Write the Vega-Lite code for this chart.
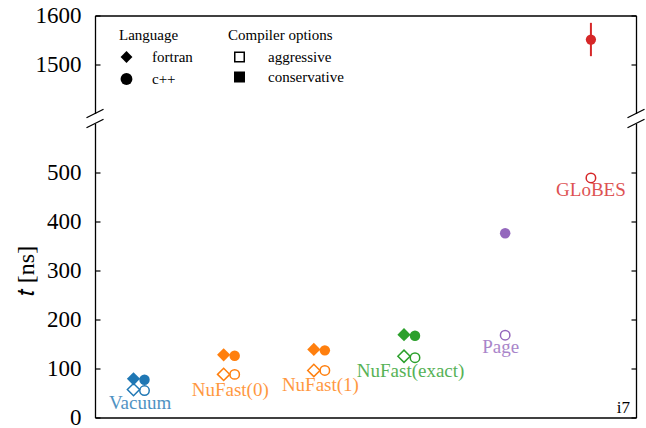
{
  "$schema": "https://vega.github.io/schema/vega-lite/v6.json",
  "autosize": {"type": "pad"},
  "bounds": "flush",
  "padding": {"left": 14, "top": 4.5, "right": 0, "bottom": 0},
  "background": "white",
  "spacing": 10,
  "config": {
    "view": {"stroke": null},
    "font": "Liberation Serif, serif",
    "axis": {"grid": false, "domainColor": "black", "domainWidth": 1.3, "tickColor": "black", "tickWidth": 1.2, "labelColor": "black", "labelFont": "Liberation Serif, serif", "labelFontSize": 23, "titleColor": "black", "titleFont": "Liberation Serif, serif", "titleFontWeight": "normal", "format": "d"},
    "legend": {"titleFont": "Liberation Serif, serif", "labelFont": "Liberation Serif, serif", "titleFontWeight": "normal", "titleFontSize": 15, "labelFontSize": 15, "titleColor": "black", "labelColor": "black", "padding": 0}
  },
  "datasets": {
    "pts": [
      {"tool": "Vacuum", "lang": "fortran", "opt": "conservative", "t": 79},
      {"tool": "Vacuum", "lang": "c++", "opt": "conservative", "t": 77},
      {"tool": "Vacuum", "lang": "fortran", "opt": "aggressive", "t": 57},
      {"tool": "Vacuum", "lang": "c++", "opt": "aggressive", "t": 55},
      {"tool": "NuFast(0)", "lang": "fortran", "opt": "conservative", "t": 128},
      {"tool": "NuFast(0)", "lang": "c++", "opt": "conservative", "t": 126},
      {"tool": "NuFast(0)", "lang": "fortran", "opt": "aggressive", "t": 88},
      {"tool": "NuFast(0)", "lang": "c++", "opt": "aggressive", "t": 88},
      {"tool": "NuFast(1)", "lang": "fortran", "opt": "conservative", "t": 139},
      {"tool": "NuFast(1)", "lang": "c++", "opt": "conservative", "t": 137},
      {"tool": "NuFast(1)", "lang": "fortran", "opt": "aggressive", "t": 96},
      {"tool": "NuFast(1)", "lang": "c++", "opt": "aggressive", "t": 96},
      {"tool": "NuFast(exact)", "lang": "fortran", "opt": "conservative", "t": 169},
      {"tool": "NuFast(exact)", "lang": "c++", "opt": "conservative", "t": 167},
      {"tool": "NuFast(exact)", "lang": "fortran", "opt": "aggressive", "t": 125},
      {"tool": "NuFast(exact)", "lang": "c++", "opt": "aggressive", "t": 122},
      {"tool": "Page", "lang": "c++", "opt": "conservative", "t": 376},
      {"tool": "Page", "lang": "c++", "opt": "aggressive", "t": 168},
      {"tool": "GLoBES", "lang": "c++", "opt": "aggressive", "t": 489},
      {"tool": "GLoBES", "lang": "c++", "opt": "conservative", "t": 1551, "lo": 1517, "hi": 1585}
    ],
    "lbl": [
      {"tool": "Vacuum", "ly": 30},
      {"tool": "NuFast(0)", "ly": 57},
      {"tool": "NuFast(1)", "ly": 67},
      {"tool": "NuFast(exact)", "ly": 94.5},
      {"tool": "Page", "ly": 144},
      {"tool": "GLoBES", "ly": 465}
    ]
  },
  "resolve": {"scale": {"color": "independent", "shape": "independent", "size": "independent", "fill": "independent"}, "legend": {"shape": "independent", "fill": "independent", "color": "independent", "size": "independent"}},
  "vconcat": [
    {
      "width": 541,
      "height": 98,
      "resolve": {"axis": {"y": "independent"}},
      "layer": [
        {
          "data": {"name": "pts"},
          "transform": [{"filter": "datum.t >= 1400"}],
          "mark": {"type": "rule", "color": "#d62728", "strokeWidth": 2},
          "encoding": {
            "x": {"field": "tool", "type": "nominal", "scale": {"type": "band", "domain": ["Vacuum", "NuFast(0)", "NuFast(1)", "NuFast(exact)", "Page", "GLoBES"], "paddingInner": 0, "paddingOuter": 0}, "axis": {"orient": "top", "labels": false, "ticks": false, "title": null, "domain": true}},
            "y": {"field": "lo", "type": "quantitative", "scale": {"domain": [1400, 1600], "nice": false, "zero": false}, "axis": {"orient": "left", "values": [1500, 1600], "tickSize": -5, "labelPadding": 19, "title": null}},
            "y2": {"field": "hi"}
          }
        },
        {
          "data": {"name": "pts"},
          "transform": [{"filter": "datum.t >= 1400"}],
          "mark": {"type": "point", "shape": "circle", "filled": true, "opacity": 1, "color": "#d62728", "size": 105},
          "encoding": {
            "x": {"field": "tool", "type": "nominal", "axis": {"orient": "top", "labels": false, "ticks": false, "title": null, "domain": true}},
            "y": {"field": "t", "type": "quantitative", "axis": {"orient": "right", "values": [1500, 1600], "tickSize": -5, "labels": false, "title": null}}
          }
        },
        {
          "data": {"values": [{"lang": "fortran"}, {"lang": "c++"}]},
          "mark": {"type": "point", "filled": true, "color": "black", "opacity": 0},
          "encoding": {
            "shape": {"field": "lang", "type": "nominal", "scale": {"domain": ["fortran", "c++"], "range": ["diamond", "circle"]}, "legend": {"title": "Language", "orient": "none", "legendX": 24, "legendY": 12, "symbolSize": 140, "symbolFillColor": "black", "symbolStrokeColor": "black", "symbolOpacity": 1, "labelOffset": 18, "rowPadding": 3, "titlePadding": 7}}
          }
        },
        {
          "data": {"values": [{"opt": "aggressive"}, {"opt": "conservative"}]},
          "mark": {"type": "point", "shape": "square", "filled": true, "stroke": "black", "strokeWidth": 1.5, "opacity": 0},
          "encoding": {
            "fill": {"field": "opt", "type": "nominal", "scale": {"domain": ["aggressive", "conservative"], "range": ["white", "black"]}, "legend": {"title": "Compiler options", "orient": "none", "legendX": 133, "legendY": 12, "symbolType": "square", "symbolSize": 90, "symbolStrokeColor": "black", "symbolStrokeWidth": 1.5, "symbolOpacity": 1, "symbolOffset": 4, "labelOffset": 21, "rowPadding": 3, "titlePadding": 7}}
          }
        },
        {
          "data": {"values": [{"side": "left"}]},
          "mark": {"type": "point", "shape": "M -1 0.5 L 1 -0.5", "filled": false, "color": "black", "strokeWidth": 1.3, "size": 289, "opacity": 1},
          "encoding": {"x": {"value": 0}, "y": {"value": "height"}}
        },
        {
          "data": {"values": [{"side": "right"}]},
          "mark": {"type": "point", "shape": "M -1 0.5 L 1 -0.5", "filled": false, "color": "black", "strokeWidth": 1.3, "size": 289, "opacity": 1},
          "encoding": {"x": {"value": "width"}, "y": {"value": "height"}}
        }
      ]
    },
    {
      "width": 541,
      "height": 294,
      "resolve": {"axis": {"y": "independent"}},
      "layer": [
        {
          "data": {"name": "pts"},
          "transform": [{"filter": "datum.t < 1400 && datum.opt == 'conservative' && datum.lang == 'fortran'"}],
          "mark": {"type": "point", "shape": "diamond", "filled": true, "opacity": 1, "size": 175},
          "encoding": {
            "x": {"field": "tool", "type": "nominal", "scale": {"type": "band", "domain": ["Vacuum", "NuFast(0)", "NuFast(1)", "NuFast(exact)", "Page", "GLoBES"], "paddingInner": 0, "paddingOuter": 0}, "axis": {"orient": "bottom", "labels": false, "ticks": false, "title": null, "domain": true}},
            "xOffset": {"field": "lang", "type": "nominal", "scale": {"type": "point", "domain": ["fortran", "c++"], "range": [38.5, 49.5], "padding": 0}},
            "y": {"field": "t", "type": "quantitative", "scale": {"domain": [0, 600], "nice": false, "zero": false}, "axis": {"orient": "left", "values": [0, 100, 200, 300, 400, 500], "tickSize": -5, "labelPadding": 19, "title": "𝑡 [ns]", "titleFontSize": 24, "titlePadding": 8}},
            "color": {"field": "tool", "type": "nominal", "scale": {"domain": ["Vacuum", "NuFast(0)", "NuFast(1)", "NuFast(exact)", "Page", "GLoBES"], "range": ["#1f77b4", "#ff7f0e", "#ff7f0e", "#2ca02c", "#9467bd", "#d62728"]}, "legend": null}
          }
        },
        {
          "data": {"name": "pts"},
          "transform": [{"filter": "datum.t < 1400 && datum.opt == 'conservative' && datum.lang == 'c++'"}],
          "mark": {"type": "point", "shape": "circle", "filled": true, "opacity": 1, "size": 110},
          "encoding": {
            "x": {"field": "tool", "type": "nominal", "axis": {"orient": "bottom", "labels": false, "ticks": false, "title": null, "domain": true}},
            "xOffset": {"field": "lang", "type": "nominal"},
            "y": {"field": "t", "type": "quantitative", "axis": null},
            "color": {"field": "tool", "type": "nominal", "legend": null}
          }
        },
        {
          "data": {"name": "pts"},
          "transform": [{"filter": "datum.t < 1400 && datum.opt == 'aggressive' && datum.lang == 'fortran'"}],
          "mark": {"type": "point", "shape": "diamond", "filled": false, "strokeWidth": 1.5, "opacity": 1, "size": 150},
          "encoding": {
            "x": {"field": "tool", "type": "nominal", "axis": {"orient": "bottom", "labels": false, "ticks": false, "title": null, "domain": true}},
            "xOffset": {"field": "lang", "type": "nominal"},
            "y": {"field": "t", "type": "quantitative", "axis": {"orient": "right", "values": [0, 100, 200, 300, 400, 500], "tickSize": -5, "labels": false, "title": null}},
            "color": {"field": "tool", "type": "nominal", "legend": null}
          }
        },
        {
          "data": {"name": "pts"},
          "transform": [{"filter": "datum.t < 1400 && datum.opt == 'aggressive' && datum.lang == 'c++' && datum.tool != 'GLoBES'"}],
          "mark": {"type": "point", "shape": "circle", "filled": false, "strokeWidth": 1.5, "opacity": 1, "size": 90},
          "encoding": {
            "x": {"field": "tool", "type": "nominal", "axis": {"orient": "bottom", "labels": false, "ticks": false, "title": null, "domain": true}},
            "xOffset": {"field": "lang", "type": "nominal"},
            "y": {"field": "t", "type": "quantitative", "axis": null},
            "color": {"field": "tool", "type": "nominal", "legend": null}
          }
        },
        {
          "data": {"name": "pts"},
          "transform": [{"filter": "datum.t < 1400 && datum.opt == 'aggressive' && datum.tool == 'GLoBES'"}],
          "mark": {"type": "point", "shape": "circle", "filled": false, "strokeWidth": 1.5, "opacity": 1, "size": 90},
          "encoding": {
            "x": {"field": "tool", "type": "nominal", "axis": {"orient": "bottom", "labels": false, "ticks": false, "title": null, "domain": true}},
            "y": {"field": "t", "type": "quantitative", "axis": null},
            "color": {"field": "tool", "type": "nominal", "legend": null}
          }
        },
        {
          "data": {"name": "lbl"},
          "mark": {"type": "text", "fontSize": 19, "font": "Liberation Serif, serif", "baseline": "middle", "align": "center", "opacity": 0.8},
          "encoding": {
            "x": {"field": "tool", "type": "nominal", "axis": {"orient": "bottom", "labels": false, "ticks": false, "title": null, "domain": true}},
            "y": {"field": "ly", "type": "quantitative", "axis": null},
            "text": {"field": "tool", "type": "nominal"},
            "color": {"field": "tool", "type": "nominal", "legend": null}
          }
        },
        {
          "data": {"values": [{"cpu": "i7"}]},
          "mark": {"type": "text", "fontSize": 17, "font": "Liberation Serif, serif", "align": "right", "baseline": "bottom", "dx": -6, "dy": -1, "color": "black"},
          "encoding": {"x": {"value": "width"}, "y": {"value": "height"}, "text": {"field": "cpu", "type": "nominal"}}
        },
        {
          "data": {"values": [{"side": "left"}]},
          "mark": {"type": "point", "shape": "M -1 0.5 L 1 -0.5", "filled": false, "color": "black", "strokeWidth": 1.3, "size": 289, "opacity": 1},
          "encoding": {"x": {"value": 0}, "y": {"value": 0}}
        },
        {
          "data": {"values": [{"side": "right"}]},
          "mark": {"type": "point", "shape": "M -1 0.5 L 1 -0.5", "filled": false, "color": "black", "strokeWidth": 1.3, "size": 289, "opacity": 1},
          "encoding": {"x": {"value": "width"}, "y": {"value": 0}}
        }
      ]
    }
  ]
}
